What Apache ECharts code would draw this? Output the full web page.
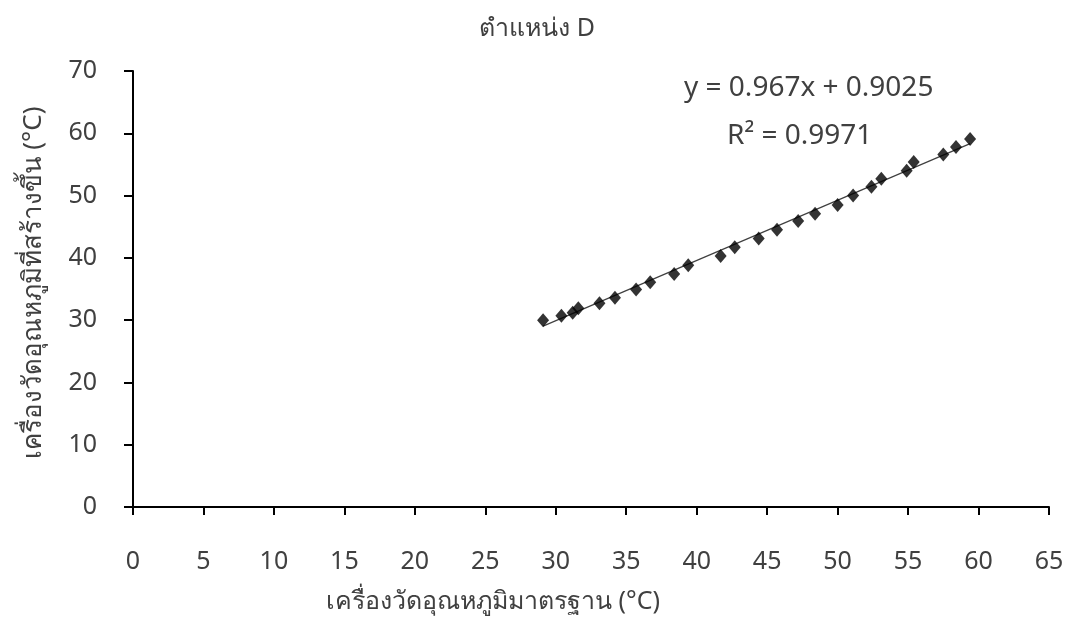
<!DOCTYPE html>
<html>
<head>
<meta charset="utf-8">
<title>ตำแหน่ง D</title>
<script src="https://cdn.jsdelivr.net/npm/echarts@6/dist/echarts.min.js"></script>
<style>
  html, body { margin: 0; padding: 0; background: #ffffff; }
  #chart { width: 1075px; height: 619px; }
</style>
</head>
<body>
<div id="chart"></div>
<script>
// Reference thermometer readings (x) vs. readings of the built instrument (y), in °C
const standardTemp = [29.1, 30.4, 31.2, 31.6, 33.1, 34.2, 35.7, 36.7, 38.4, 39.4,
  41.7, 42.7, 44.4, 45.7, 47.2, 48.4, 50.0, 51.1, 52.4, 53.1, 54.9, 55.4, 57.5, 58.4, 59.4];
const builtTemp = [30.0, 30.7, 31.2, 31.9, 32.7, 33.6, 34.9, 36.1, 37.4, 38.8,
  40.3, 41.7, 43.1, 44.5, 45.9, 47.1, 48.5, 50.0, 51.4, 52.7, 54.0, 55.4, 56.6, 57.8, 59.1];

// Linear fit reported on the chart
const slope = 0.967;
const intercept = 0.9025;
const rSquared = 0.9971;

const xTicks = { min: 0, max: 65, interval: 5 };
const yTicks = { min: 0, max: 70, interval: 10 };

const titleText = 'ตำแหน่ง D';
const xName = 'เครื่องวัดอุณหภูมิมาตรฐาน (°C)';
const yName = 'เครื่องวัดอุณหภูมิที่สร้างขึ้น (°C)';

const points = standardTemp.map((x, i) => [x, builtTemp[i]]);
const xLo = Math.min(...standardTemp);
const xHi = Math.max(...standardTemp);
const trend = [[xLo, slope * xLo + intercept], [xHi, slope * xHi + intercept]];

const FONT = '"Noto Sans", "DejaVu Sans", sans-serif';
const TXT = '#404040';

const chart = echarts.init(document.getElementById('chart'), null, { renderer: 'canvas' });
chart.setOption({
  backgroundColor: '#ffffff',
  animation: false,
  textStyle: { fontFamily: FONT },
  title: {
    text: titleText,
    left: 532, top: 11, textAlign: 'center',
    textStyle: { fontFamily: FONT, fontSize: 25, fontWeight: 'normal', color: TXT }
  },
  grid: { left: 133, right: 26, top: 71, bottom: 109, containLabel: false },
  xAxis: {
    type: 'value',
    min: xTicks.min, max: xTicks.max, interval: xTicks.interval,
    name: xName, nameLocation: 'middle', nameGap: 82,
    nameTextStyle: { fontFamily: FONT, fontSize: 25, color: TXT, padding: [0, 196, 0, 0] },
    axisLine: { show: true, onZero: false, lineStyle: { color: '#000', width: 2 } },
    axisTick: { show: true, inside: false, length: 8, lineStyle: { color: '#000', width: 2 } },
    axisLabel: { margin: 42, fontFamily: FONT, fontSize: 25, color: TXT },
    splitLine: { show: false }
  },
  yAxis: {
    type: 'value',
    min: yTicks.min, max: yTicks.max, interval: yTicks.interval,
    name: yName, nameLocation: 'middle', nameGap: 86, nameRotate: 90,
    nameTextStyle: { fontFamily: FONT, fontSize: 26, color: TXT, padding: [0, 0, 0, 12] },
    axisLine: { show: true, onZero: false, lineStyle: { color: '#000', width: 2 } },
    axisTick: { show: true, inside: false, length: 9, lineStyle: { color: '#000', width: 2 } },
    axisLabel: { margin: 36, fontFamily: FONT, fontSize: 25, color: TXT },
    splitLine: { show: false }
  },
  series: [
    {
      name: 'trend',
      type: 'line',
      data: trend,
      symbol: 'none',
      lineStyle: { color: '#404040', width: 1.2 },
      z: 2
    },
    {
      name: 'readings',
      type: 'scatter',
      data: points,
      symbol: 'diamond',
      symbolSize: [12, 14],
      itemStyle: { color: '#000000' },
      z: 3
    }
  ],
  graphic: [
    {
      type: 'text', left: 684, top: 74,
      style: { text: 'y = ' + slope + 'x + ' + intercept, font: '28px ' + FONT, fill: TXT }
    },
    {
      type: 'text', left: 727, top: 122,
      style: { text: 'R² = ' + rSquared, font: '28px ' + FONT, fill: TXT }
    }
  ]
});
</script>
</body>
</html>
